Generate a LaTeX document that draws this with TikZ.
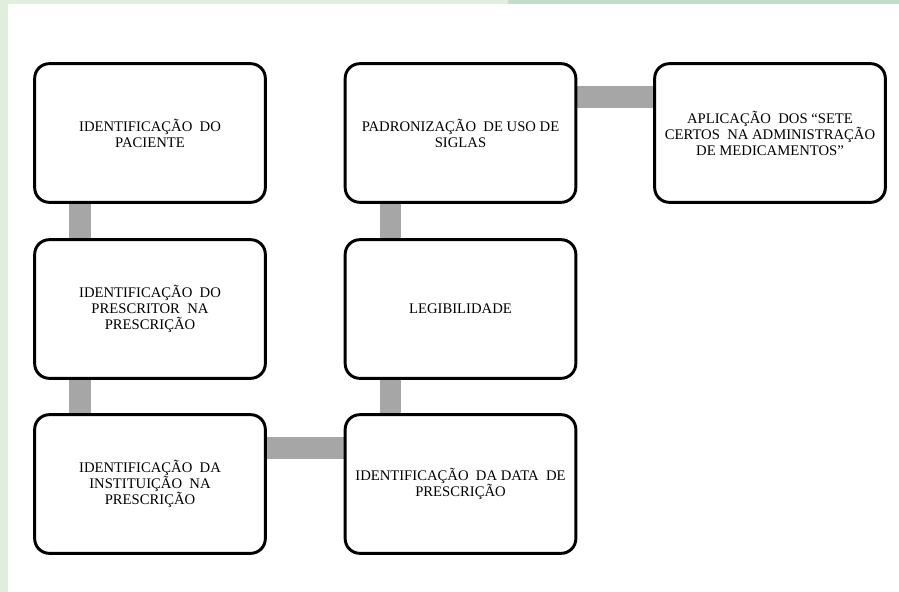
\documentclass[tikz,border=0pt]{standalone}
\usepackage{fontspec}
\setmainfont{Liberation Serif}
\usetikzlibrary{backgrounds}
\definecolor{fundoVerde} {RGB}{226, 238, 221}
\definecolor{faixaVerde} {RGB}{197, 220, 203}
\definecolor{barraCinza} {RGB}{166, 166, 166}
\tikzset{
  caixa/.style={draw=black,fill=white,line width=2.2pt,rounded corners=11pt,
    minimum width=173pt,minimum height=104pt,inner sep=2pt,align=center,
    font=\fontsize{11}{12}\selectfont},
  barra/.style={draw=barraCinza,line width=16pt}
}

\begin{document}
\begin{tikzpicture}[x=0.75pt,y=-0.75pt]
        \useasboundingbox (0,0) rectangle (899,592);
        % Fundo da pagina
        \begin{scope}[on background layer]
          \fill[white] (0,0) rectangle (899,592);
          \fill[fundoVerde] (0,0) rectangle (8,592);
          \fill[fundoVerde] (0,0) rectangle (508,4);
          \fill[faixaVerde] (508,0) rectangle (899,4);
        \end{scope}
        % Caixas
        \node[caixa] (paciente) at (150,133)
          {IDENTIFICAÇÃO~ DO\\PACIENTE};
        \node[caixa] (prescritor) at (150,309)
          {IDENTIFICAÇÃO~ DO\\PRESCRITOR~ NA\\PRESCRIÇÃO};
        \node[caixa] (instituicao) at (150,484)
          {IDENTIFICAÇÃO~ DA\\INSTITUIÇÃO~ NA\\PRESCRIÇÃO};
        \node[caixa] (data) at (460.5,484)
          {IDENTIFICAÇÃO~ DA DATA~ DE\\PRESCRIÇÃO};
        \node[caixa] (legibilidade) at (460.5,309)
          {LEGIBILIDADE};
        \node[caixa] (siglas) at (460.5,133)
          {PADRONIZAÇÃO~ DE USO DE\\SIGLAS};
        \node[caixa] (setecertos) at (770,133)
          {APLICAÇÃO~ DOS “SETE\\CERTOS~ NA ADMINISTRAÇÃO\\DE MEDICAMENTOS”};
        % Barras de ligacao
        \begin{scope}[on background layer]
          \draw[barra] ([xshift=35pt]paciente.south west)
            -- ([xshift=35pt]prescritor.north west);
          \draw[barra] ([xshift=35pt]prescritor.south west)
            -- ([xshift=35pt]instituicao.north west);
          \draw[barra] ([yshift=-26pt]instituicao.north east)
            -- ([yshift=-26pt]data.north west);
          \draw[barra] ([xshift=35pt]data.north west)
            -- ([xshift=35pt]legibilidade.south west);
          \draw[barra] ([xshift=35pt]legibilidade.north west)
            -- ([xshift=35pt]siglas.south west);
          \draw[barra] ([yshift=-26pt]siglas.north east)
            -- ([yshift=-26pt]setecertos.north west);
        \end{scope}
      \end{tikzpicture}
\end{document}
